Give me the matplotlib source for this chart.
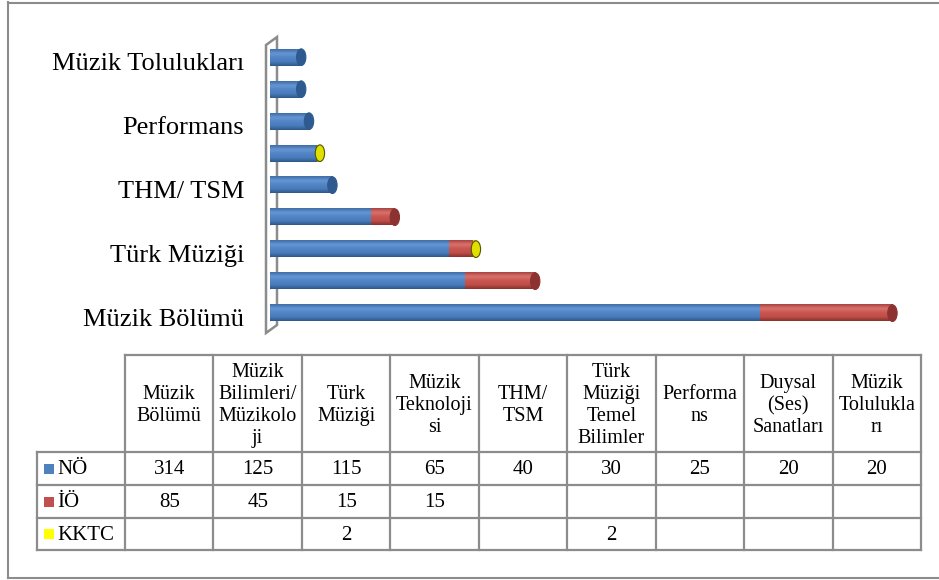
import matplotlib.pyplot as plt
import numpy as np
from matplotlib.colors import LinearSegmentedColormap
from matplotlib.patches import Ellipse, Polygon, Rectangle

plt.rcParams['font.family'] = ['Liberation Serif', 'DejaVu Serif']

# Data
categories = ["Müzik Bölümü", "Müzik Bilimleri/ Müzikoloji", "Türk Müziği",
              "Müzik Teknolojisi", "THM/ TSM", "Türk Müziği Temel Bilimler",
              "Performans", "Duysal (Ses) Sanatları", "Müzik Tolulukları"]
table_headers = ["Müzik\nBölümü", "Müzik\nBilimleri/\nMüzikolo\nji", "Türk\nMüziği",
                 "Müzik\nTeknoloji\nsi", "THM/\nTSM", "Türk\nMüziği\nTemel\nBilimler",
                 "Performa\nns", "Duysal\n(Ses)\nSanatları", "Müzik\nTolulukla\nrı"]
series_names = ["NÖ", "İÖ", "KKTC"]
no_vals = [314, 125, 115, 65, 40, 30, 25, 20, 20]
io_vals = [85, 45, 15, 15, 0, 0, 0, 0, 0]
kktc_vals = [0, 0, 2, 0, 0, 2, 0, 0, 0]
series_vals = [no_vals, io_vals, kktc_vals]
colors = ["#4F81BD", "#C0504D", "#FFFF00"]

# gradient shades per series (top -> bottom) for the cylinder look
shades = [["#3E6DA6", "#6595D3", "#5285C6", "#4A7CBB", "#2E5689"],
          ["#A9433F", "#D8726E", "#C9574F", "#BD4E4A", "#8A2F2C"],
          ["#C8C800", "#FFFF66", "#FFFF00", "#EEEE00", "#A0A000"]]
cap_colors = ["#2F5A8F", "#8C3230", "#E0E000"]

W, H = 939, 580
fig = plt.figure(figsize=(W / 100, H / 100), dpi=100)

def px(x0, y0, x1, y1):
    # pixel box (top-left origin) -> figure fraction rect
    return [x0 / W, 1 - y1 / H, (x1 - x0) / W, (y1 - y0) / H]

# background axes in pixel coordinates for frame, wall and table
bg = fig.add_axes([0, 0, 1, 1])
bg.set_xlim(0, W)
bg.set_ylim(H, 0)
bg.axis('off')

frame_c = "#8C8C8C"
bg.plot([8, 8], [2, 578], color=frame_c, lw=1.5)
bg.plot([8, W], [2.5, 2.5], color=frame_c, lw=1.5)
bg.plot([8, W], [577.5, 577.5], color=frame_c, lw=1.5)

# 3D wall
wall = Polygon([[266, 45], [277, 37], [277, 325], [266, 333]], closed=True,
               facecolor="white", edgecolor="#8C8C8C", lw=1.8)
bg.add_patch(wall)

# bar chart axes
ax = fig.add_axes(px(270, 38, 930, 333))
n = len(categories)
ypos = np.arange(n)
ax.set_ylim(-0.62, n - 1 + 0.6)
ax.axis('off')
bar_h = 0.52

for i in range(n):
    left = 0
    last = None
    for s in range(3):
        v = series_vals[s][i]
        if v <= 0:
            continue
        cmap = LinearSegmentedColormap.from_list("c%d" % s, shades[s][::-1])
        grad = np.linspace(0, 1, 64).reshape(-1, 1)
        ax.imshow(grad, cmap=cmap, aspect='auto', origin='lower',
                  extent=(left, left + v, ypos[i] - bar_h / 2, ypos[i] + bar_h / 2),
                  zorder=2, interpolation='bilinear')
        left += v
        last = s
    # end cap
    ec = "#555500" if last == 2 else cap_colors[last]
    ax.add_patch(Ellipse((left, ypos[i]), 6, bar_h, facecolor=cap_colors[last],
                         edgecolor=ec, lw=0.8, zorder=3))
    # left rounded edge hint
    ax.add_patch(Ellipse((0, ypos[i]), 3, bar_h, facecolor=shades[0][2],
                         edgecolor='none', zorder=1))

ax.set_xlim(0, 660 / 1.56)

# category labels (every other one)
for i in range(0, n, 2):
    y_px = 313 - 32 * i + 7
    bg.text(244, y_px, categories[i], ha='right', va='center', fontsize=19, color='black')

# data table
col_x = np.linspace(125, 921, len(categories) + 1)
row_y = [355, 452, 485, 518, 550]
grid_c = "#8C8C8C"
lw = 1.6
bg.plot([col_x[0], col_x[-1]], [row_y[0], row_y[0]], color=grid_c, lw=lw)
for yy in row_y[1:]:
    bg.plot([37, col_x[-1]], [yy, yy], color=grid_c, lw=lw)
for xx in col_x:
    bg.plot([xx, xx], [row_y[0], row_y[-1]], color=grid_c, lw=lw)
bg.plot([37, 37], [row_y[1], row_y[-1]], color=grid_c, lw=lw)

for j, hdr in enumerate(table_headers):
    cx = (col_x[j] + col_x[j + 1]) / 2
    bg.text(cx, (row_y[0] + row_y[1]) / 2 + 2, hdr, ha='center', va='center',
            fontsize=14.5, linespacing=1.2, color='black')

for s in range(3):
    cy = (row_y[s + 1] + row_y[s + 2]) / 2
    bg.add_patch(Rectangle((44, cy - 5), 10, 10, facecolor=colors[s], edgecolor='none'))
    bg.text(57, cy + 1, series_names[s], ha='left', va='center', fontsize=15)
    for j in range(n):
        v = series_vals[s][j]
        if v:
            cx = (col_x[j] + col_x[j + 1]) / 2
            bg.text(cx, cy + 1, str(v), ha='center', va='center', fontsize=15)

fig.savefig("out.png", dpi=100)
